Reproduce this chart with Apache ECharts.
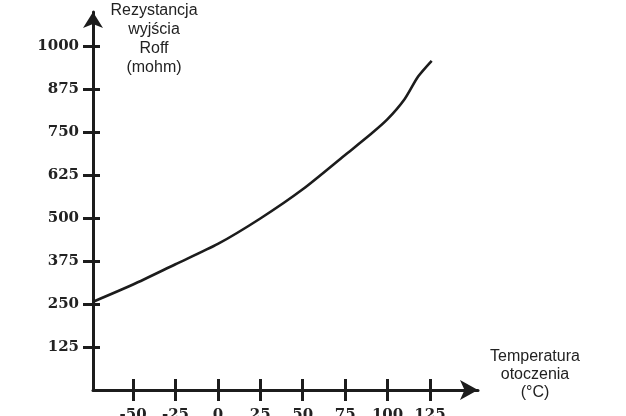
<!DOCTYPE html>
<html>
<head>
<meta charset="utf-8">
<script src="https://cdn.jsdelivr.net/npm/echarts@6/dist/echarts.min.js"></script>
<style>html,body{margin:0;padding:0;background:#fff}#c{width:626px;height:416px}</style>
</head>
<body>
<div id="c"></div>
<script>
const temps = [-73.5, -50, -25, 0, 25, 50, 75, 90, 100, 110, 118, 126];
const resistance = [257, 307, 366, 425, 499, 584, 684, 744, 788, 846, 912, 958];
const xTicks = [-50, -25, 0, 25, 50, 75, 100, 125];
const yTicks = [125, 250, 375, 500, 625, 750, 875, 1000];
const xName = 'Temperatura\notoczenia\n(°C)';
const yName = 'Rezystancja\nwyjścia\nRoff\n(mohm)';

const ink = '#1c1c1c';
const labelFont = { fontFamily: 'DejaVu Serif', fontWeight: 'bold', fontSize: 15, color: '#222' };
const xMin = -73.6, xMax = 153.3, yMin = 0, yMax = 1100;
const fmt = v => String(v);

const chart = echarts.init(document.getElementById('c'), null, { renderer: 'canvas' });
chart.setOption({
  animation: false,
  backgroundColor: '#fff',
  grid: { left: 93, right: 148, top: 12, bottom: 26, containLabel: false, outerBoundsMode: 'none' },
  xAxis: [
    {
      type: 'value', min: xMin, max: xMax,
      axisLine: { show: true, onZero: false, lineStyle: { color: ink, width: 3 }, symbol: ['none', 'arrow'], symbolSize: [15, 18] },
      axisTick: { show: true, inside: false, length: 11, lineStyle: { color: ink, width: 3 }, customValues: xTicks },
      axisLabel: Object.assign({ show: true, margin: 18, customValues: xTicks, formatter: fmt }, labelFont),
      splitLine: { show: false }
    },
    {
      type: 'value', min: xMin, max: xMax, position: 'bottom',
      axisLine: { show: false, onZero: false },
      axisTick: { show: true, inside: true, length: 11, lineStyle: { color: ink, width: 3 }, customValues: xTicks },
      axisLabel: { show: false },
      splitLine: { show: false }
    }
  ],
  yAxis: [
    {
      type: 'value', min: yMin, max: yMax,
      axisLine: { show: true, onZero: false, lineStyle: { color: ink, width: 3 }, symbol: ['none', 'arrow'], symbolSize: [15, 16] },
      axisTick: { show: true, inside: false, length: 10, lineStyle: { color: ink, width: 3 }, customValues: yTicks },
      axisLabel: Object.assign({ show: true, margin: 14, customValues: yTicks, formatter: fmt }, labelFont),
      splitLine: { show: false }
    },
    {
      type: 'value', min: yMin, max: yMax, position: 'left',
      axisLine: { show: false, onZero: false },
      axisTick: { show: true, inside: true, length: 7, lineStyle: { color: ink, width: 3 }, customValues: yTicks },
      axisLabel: { show: false },
      splitLine: { show: false }
    }
  ],
  graphic: [
    { type: 'text', silent: true, x: 154, y: 1, style: { text: yName, fill: '#222', fontFamily: 'Liberation Sans', fontSize: 16, lineHeight: 19, align: 'center', verticalAlign: 'top' } },
    { type: 'text', silent: true, x: 535, y: 348, style: { text: xName, fill: '#222', fontFamily: 'Liberation Sans', fontSize: 16, lineHeight: 18, align: 'center', verticalAlign: 'top' } }
  ],
  series: [{
    type: 'line',
    xAxisIndex: 0, yAxisIndex: 0,
    data: temps.map((t, i) => [t, resistance[i]]),
    smooth: 0.25,
    showSymbol: false,
    lineStyle: { color: ink, width: 2.6 },
    clip: false
  }]
});
</script>
</body>
</html>
